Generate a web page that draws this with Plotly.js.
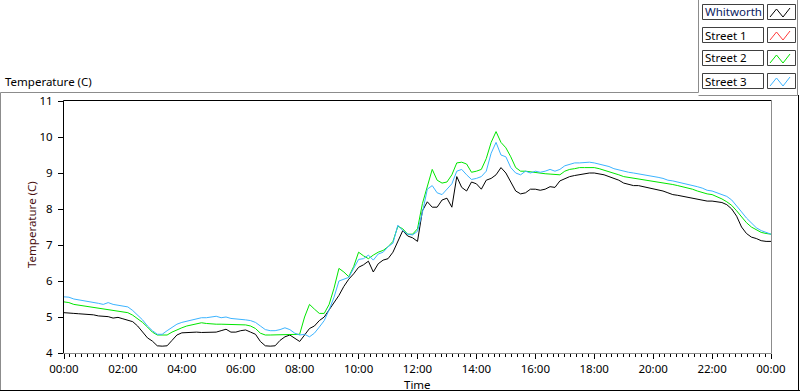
<!DOCTYPE html>
<html><head><meta charset="utf-8">
<script src="https://cdn.plot.ly/plotly-3.0.1.min.js"></script>
<style>html,body{margin:0;padding:0;background:#fff;overflow:hidden}#chart{width:800px;height:392px;}</style>
</head><body><div id="chart"></div>
<script>
// sample times (every 10 minutes, 00:00 -> 24:00)
const times = [
"00:00","00:10","00:20","00:30","00:40","00:50","01:00","01:10","01:20","01:30","01:40","01:50",
"02:00","02:10","02:20","02:30","02:40","02:50","03:00","03:10","03:20","03:30","03:40","03:50",
"04:00","04:10","04:20","04:30","04:40","04:50","05:00","05:10","05:20","05:30","05:40","05:50",
"06:00","06:10","06:20","06:30","06:40","06:50","07:00","07:10","07:20","07:30","07:40","07:50",
"08:00","08:10","08:20","08:30","08:40","08:50","09:00","09:10","09:20","09:30","09:40","09:50",
"10:00","10:10","10:20","10:30","10:40","10:50","11:00","11:10","11:20","11:30","11:40","11:50",
"12:00","12:10","12:20","12:30","12:40","12:50","13:00","13:10","13:20","13:30","13:40","13:50",
"14:00","14:10","14:20","14:30","14:40","14:50","15:00","15:10","15:20","15:30","15:40","15:50",
"16:00","16:10","16:20","16:30","16:40","16:50","17:00","17:10","17:20","17:30","17:40","17:50",
"18:00","18:10","18:20","18:30","18:40","18:50","19:00","19:10","19:20","19:30","19:40","19:50",
"20:00","20:10","20:20","20:30","20:40","20:50","21:00","21:10","21:20","21:30","21:40","21:50",
"22:00","22:10","22:20","22:30","22:40","22:50","23:00","23:10","23:20","23:30","23:40","23:50",
"24:00"];

const whitworth = [
5.12,5.10,5.10,5.09,5.08,5.08, 5.06,5.03,5.02,5.01,4.97,4.99,
4.95,4.90,4.87,4.75,4.58,4.42, 4.33,4.20,4.19,4.20,4.35,4.50,
4.56,4.57,4.58,4.58,4.57,4.58, 4.57,4.58,4.62,4.66,4.58,4.58,
4.62,4.64,4.58,4.52,4.32,4.20, 4.19,4.20,4.35,4.45,4.50,4.40,
4.32,4.50,4.68,4.75,4.90,5.00, 5.20,5.40,5.60,5.85,6.05,6.20,
6.38,6.45,6.55,6.25,6.48,6.58, 6.62,6.80,7.10,7.40,7.25,7.20,
7.10,7.95,8.20,8.05,8.05,8.25, 8.30,8.05,8.90,8.60,8.50,8.75,
8.70,8.55,8.80,8.85,8.95,9.15, 9.00,8.75,8.50,8.42,8.45,8.55,
8.55,8.52,8.55,8.62,8.60,8.78, 8.85,8.90,8.93,8.96,8.98,9.00,
9.00,8.98,8.95,8.90,8.85,8.80, 8.72,8.68,8.65,8.65,8.62,8.60,
8.58,8.55,8.50,8.45,8.40,8.38, 8.35,8.33,8.30,8.28,8.25,8.22,
8.22,8.20,8.18,8.12,8.00,7.80, 7.50,7.32,7.22,7.18,7.12,7.10,
7.10];

const street1 = [];

const street2 = [
5.42,5.40,5.35,5.33,5.30,5.28, 5.28,5.25,5.22,5.22,5.20,5.18,
5.15,5.12,5.05,4.95,4.85,4.72, 4.58,4.50,4.49,4.50,4.58,4.65,
4.70,4.75,4.78,4.82,4.84,4.82, 4.80,4.80,4.80,4.80,4.80,4.80,
4.80,4.78,4.75,4.68,4.55,4.50, 4.50,4.50,4.50,4.52,4.52,4.50,
4.52,5.00,5.35,5.22,5.10,5.10, 5.35,5.80,6.35,6.25,6.12,6.40,
6.80,6.70,6.62,6.72,6.80,6.85, 6.95,7.10,7.52,7.45,7.30,7.30,
7.45,8.15,8.65,9.10,8.80,8.72, 8.75,8.95,9.28,9.30,9.25,9.02,
9.05,9.10,9.40,9.85,10.15,9.85, 9.70,9.45,9.15,9.05,9.05,9.03,
9.00,9.00,8.98,8.97,8.95,8.95, 9.05,9.10,9.12,9.15,9.15,9.15,
9.15,9.12,9.08,9.05,9.00,8.95, 8.90,8.88,8.85,8.82,8.80,8.80,
8.78,8.75,8.72,8.70,8.68,8.65, 8.62,8.58,8.55,8.50,8.45,8.42,
8.40,8.35,8.28,8.20,8.10,7.95, 7.78,7.62,7.50,7.42,7.35,7.32,
7.30];

const street3 = [
5.56,5.55,5.50,5.48,5.45,5.42, 5.40,5.38,5.35,5.40,5.35,5.32,
5.30,5.28,5.18,5.05,4.92,4.75, 4.62,4.52,4.52,4.62,4.72,4.80,
4.85,4.88,4.92,4.95,4.98,4.98, 5.00,5.02,4.98,5.00,4.96,4.95,
4.95,4.92,4.90,4.85,4.75,4.65, 4.62,4.62,4.65,4.70,4.65,4.55,
4.50,4.52,4.45,4.55,4.72,4.90, 5.20,5.55,6.00,6.05,6.10,6.35,
6.60,6.62,6.72,6.58,6.75,6.80, 6.95,7.05,7.55,7.40,7.30,7.28,
7.38,7.90,8.55,8.65,8.45,8.40, 8.55,8.70,9.05,9.10,8.95,8.82,
8.85,8.90,9.05,9.55,9.85,9.50, 9.45,9.15,9.00,8.95,9.05,9.00,
9.05,9.02,9.05,9.10,9.05,9.10, 9.20,9.25,9.28,9.28,9.30,9.30,
9.28,9.25,9.22,9.18,9.12,9.08, 9.05,9.02,9.00,8.98,8.95,8.92,
8.90,8.88,8.85,8.80,8.78,8.75, 8.72,8.70,8.66,8.62,8.58,8.52,
8.50,8.45,8.40,8.35,8.25,8.10, 7.92,7.75,7.60,7.48,7.40,7.35,
7.30];

const tickHours  = [0,2,4,6,8,10,12,14,16,18,20,22,24];
const tickLabels = ["00:00","02:00","04:00","06:00","08:00","10:00","12:00","14:00","16:00","18:00","20:00","22:00","00:00"];
const seriesNames  = ["Whitworth","Street 1","Street 2","Street 3"];
const seriesColors = ["#000000","#ff3b3b","#00e600","#3cb4ff"];

const hours = times.map(t => { const p = t.split(":"); return (+p[0]) + (+p[1]) / 60; });
const seriesData = [whitworth, street1, street2, street3];

const traces = seriesData.map((vals, i) => ({
  type: "scatter", mode: "lines", name: seriesNames[i],
  x: hours.slice(0, vals.length), y: vals,
  line: {color: seriesColors[i], width: 1}, showlegend: false, hoverinfo: "skip"
}));

// pixel -> paper helpers (plot area x 64..771, y 101..353)
const L = 64, R = 29, T = 101, B = 39, W = 800, H = 392;
const pw = W - L - R, ph = H - T - B;
const X = px => (px - L) / pw;
const Y = py => (H - B - py) / ph;
const FONT = "Noto Sans, DejaVu Sans, sans-serif";
const FS = 11.5;

const shapes = [];
const line = (x0, y0, x1, y1, c) => shapes.push({type: "line", xref: "paper", yref: "paper",
  x0: X(x0), y0: Y(y0), x1: X(x1), y1: Y(y1), line: {color: c, width: 1}});

// outer frame
line(0.5, 92.5, 698.5, 92.5, "#8c8c8c");
line(0.5, 92.5, 0.5, 391, "#8c8c8c");
line(0, 390.5, 800, 390.5, "#000000");
line(798.5, 95, 798.5, 391, "#000000");
// legend container
line(698.5, 0, 698.5, 92.5, "#8c8c8c");
line(698.5, 95.5, 797.5, 95.5, "#8c8c8c");
line(797.5, 0, 797.5, 95.5, "#8c8c8c");
// plot frame
line(63.5, 100.5, 771.5, 100.5, "#000000");
line(63.5, 100.5, 63.5, 353.5, "#000000");
line(771.5, 100.5, 771.5, 353.5, "#8c8c8c");
line(63.5, 353.5, 771.5, 353.5, "#8c8c8c");

const annotations = [
  {xref: "paper", yref: "paper", x: X(4), y: Y(81), xanchor: "left", yanchor: "middle", borderpad: 0,
   text: "Temperature (C)", showarrow: false, font: {family: FONT, size: FS, color: "#000"}},
  {xref: "paper", yref: "paper", x: X(31), y: Y(225), xanchor: "center", yanchor: "middle", borderpad: 0,
   textangle: -90, text: "Temperature (C)", showarrow: false, font: {family: FONT, size: FS, color: "#4a1010"}},
  {xref: "paper", yref: "paper", x: X(417), y: Y(384), xanchor: "center", yanchor: "middle", borderpad: 0,
   text: "Time", showarrow: false, font: {family: FONT, size: FS, color: "#000"}}
];

// legend boxes
seriesNames.forEach((nm, i) => {
  const top = 4 + i * 23;
  shapes.push({type: "rect", xref: "paper", yref: "paper",
    x0: X(702.5), x1: X(763.5), y0: Y(top + 0.5), y1: Y(top + 15.5),
    line: {color: "#404040", width: 1}, fillcolor: "#ffffff"});
  shapes.push({type: "rect", xref: "paper", yref: "paper",
    x0: X(767.5), x1: X(795.5), y0: Y(top + 0.5), y1: Y(top + 15.5),
    line: {color: "#404040", width: 1}, fillcolor: "#ffffff"});
  const pts = [[770, top + 13], [776.5, top + 5], [783, top + 13], [790, top + 4]];
  shapes.push({type: "path", xref: "paper", yref: "paper",
    path: "M " + pts.map(p => X(p[0]) + "," + Y(p[1])).join(" L "),
    line: {color: seriesColors[i], width: 1}});
  annotations.push({xref: "paper", yref: "paper", x: X(704), y: Y(top + 8), xanchor: "left", yanchor: "middle",
    borderpad: 0, text: nm, showarrow: false, font: {family: FONT, size: FS, color: i === 0 ? "#0a1a60" : "#000"}});
});

const layout = {
  width: W, height: H, margin: {l: L, r: R, t: T, b: B, pad: 0},
  paper_bgcolor: "#ffffff", plot_bgcolor: "#ffffff",
  font: {family: FONT, size: FS, color: "#000"},
  xaxis: {
    range: [0, 24], tickmode: "array", tickvals: tickHours, ticktext: tickLabels,
    showgrid: false, zeroline: false, showline: false,
    ticks: "outside", ticklen: 5, tickwidth: 1, tickcolor: "#000",
    minor: {dtick: 0.2, tick0: 0, ticks: "outside", ticklen: 3, tickwidth: 1, tickcolor: "#000", showgrid: false},
    tickfont: {family: FONT, size: FS, color: "#000"}
  },
  yaxis: {
    range: [4, 11], dtick: 1, tick0: 4,
    showgrid: false, zeroline: false, showline: false,
    ticks: "outside", ticklen: 5, tickwidth: 1, tickcolor: "#000", ticklabelstandoff: 3,
    tickfont: {family: FONT, size: FS, color: "#000"}
  },
  shapes: shapes, annotations: annotations, showlegend: false
};

Plotly.newPlot("chart", traces, layout, {staticPlot: true, displayModeBar: false});
</script></body></html>
